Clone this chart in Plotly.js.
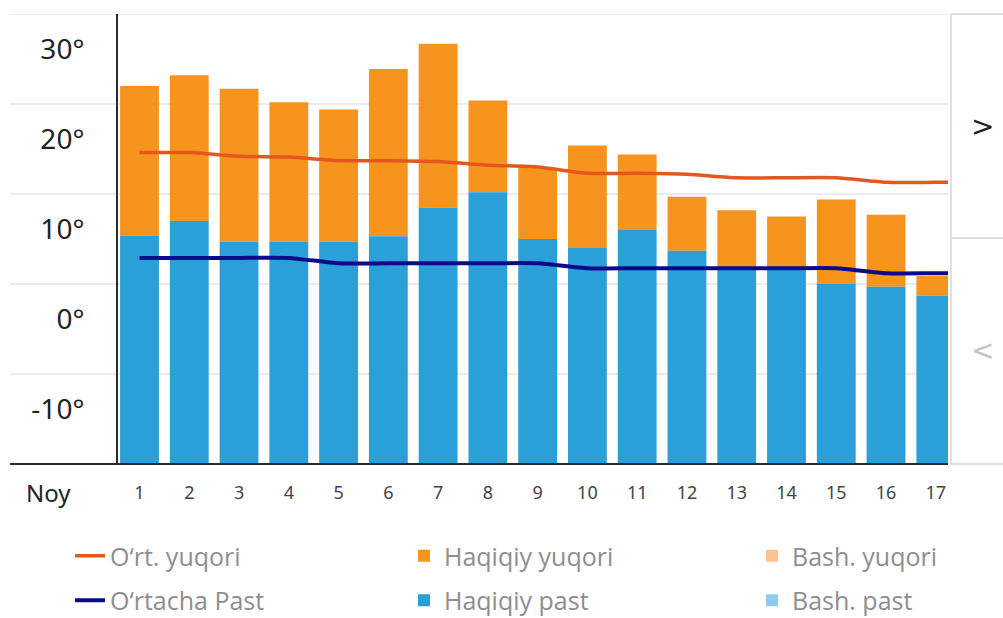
<!DOCTYPE html>
<html>
<head>
<meta charset="utf-8">
<script src="https://cdn.plot.ly/plotly-3.0.1.min.js"></script>
<style>
  html, body { margin: 0; padding: 0; background: #ffffff; }
  #chart { width: 1003px; height: 618px; }
</style>
</head>
<body>
<div id="chart"></div>
<script>
// ---- data ----
const days      = [1, 2, 3, 4, 5, 6, 7, 8, 9, 10, 11, 12, 13, 14, 15, 16, 17];
const dayLabels = ["1","2","3","4","5","6","7","8","9","10","11","12","13","14","15","16","17"];
const actualHigh = [22.0, 23.2, 21.7, 20.2, 19.4, 23.9, 26.7, 20.4, 12.9, 15.4, 14.4, 9.7, 8.2, 7.5, 9.4, 7.7, 0.9];
const actualLow  = [5.4, 7.0, 4.7, 4.7, 4.7, 5.3, 8.5, 10.2, 5.0, 4.0, 6.0, 3.7, 1.8, 1.8, 0.0, -0.3, -1.3];
const avgDays    = [1, 2, 3, 4, 5, 6, 7, 8, 9, 10, 11, 12, 13, 14, 15, 16, 17, 18];
const avgHigh    = [14.6, 14.6, 14.2, 14.1, 13.7, 13.7, 13.6, 13.2, 13.0, 12.3, 12.3, 12.2, 11.8, 11.8, 11.8, 11.3, 11.3, 11.3];
const avgLow     = [2.9, 2.9, 2.9, 2.9, 2.3, 2.3, 2.3, 2.3, 2.3, 1.75, 1.75, 1.75, 1.75, 1.75, 1.75, 1.2, 1.2, 1.2];
const forecastHigh = [null];
const forecastLow  = [null];
const yTickVals  = [-10, 0, 10, 20, 30];
const yTickText  = ["-10°", "0°", "10°", "20°", "30°"];
const axisFloor  = -20;
const axisTop    = 30;
const monthLabel = "Noy";
const names = {
  avgHigh: "O\u2018rt. yuqori",
  avgLow: "O\u2018rtacha Past",
  actHigh: "Haqiqiy yuqori",
  actLow: "Haqiqiy past",
  fcHigh: "Bash. yuqori",
  fcLow: "Bash. past"
};

// ---- styles ----
const C = {
  orange: "#F7941D", blue: "#2A9FD8",
  lightOrange: "#FBC48E", lightBlue: "#8ECBEF",
  avgHigh: "#E4571E", avgLow: "#0A0A8A",
  grid: "#e4e4e4", axis: "#2b2b2b", legendText: "#8e8e8e"
};

const traces = [
  { type: "bar", x: days, base: actualLow, y: actualHigh.map((h, i) => h - actualLow[i]),
    marker: { color: C.orange }, name: names.actHigh, legend: "legend2", legendgroup: "b1", hoverinfo: "skip" },
  { type: "bar", x: days, base: axisFloor, y: actualLow.map(v => v - axisFloor),
    marker: { color: C.blue }, name: names.actLow, legend: "legend2", legendgroup: "b2", hoverinfo: "skip" },
  { type: "bar", x: forecastHigh, y: forecastHigh,
    marker: { color: C.lightOrange }, name: names.fcHigh, legend: "legend3", legendgroup: "c1" },
  { type: "bar", x: forecastLow, y: forecastLow,
    marker: { color: C.lightBlue }, name: names.fcLow, legend: "legend3", legendgroup: "c2" },
  { type: "scatter", mode: "lines", x: avgDays, y: avgHigh,
    line: { color: C.avgHigh, width: 3.5, shape: "spline", smoothing: 0.6 },
    name: names.avgHigh, legend: "legend", legendgroup: "a1", hoverinfo: "skip" },
  { type: "scatter", mode: "lines", x: avgDays, y: avgLow,
    line: { color: C.avgLow, width: 4, shape: "spline", smoothing: 0.6 },
    name: names.avgLow, legend: "legend", legendgroup: "a2", hoverinfo: "skip" }
];

const legendCommon = {
  orientation: "v", xref: "paper", yref: "container",
  yanchor: "top", y: 1 - 533 / 618, xanchor: "left",
  font: { family: "'Open Sans', Roboto, sans-serif", size: 25, color: C.legendText },
  bgcolor: "rgba(0,0,0,0)", tracegroupgap: 9, itemclick: false
};
const px2paperX = px => (px - 118) / 830;

// gridlines extended into the label column, from the tick values
const gridShapes = yTickVals.concat([axisTop]).filter((v, i, a) => a.indexOf(v) === i).map(v => ({
  type: "line", xref: "paper", yref: "y", x0: -0.13, x1: 1, y0: v, y1: v,
  line: { color: C.grid, width: 1.5 }, layer: "below"
}));

const layout = {
  width: 1003, height: 618,
  margin: { l: 118, r: 55, t: 14, b: 154 },
  paper_bgcolor: "#ffffff", plot_bgcolor: "#ffffff",
  barmode: "overlay", bargap: 0.22,
  font: { family: "Roboto, 'Noto Sans', sans-serif", color: "#222" },
  xaxis: {
    range: [0.568, 17.245], tickvals: days, ticktext: dayLabels,
    showgrid: false, zeroline: false, showline: false, ticks: "",
    ticklabelstandoff: 16,
    tickfont: { family: "'Noto Sans', Roboto, sans-serif", size: 18, color: "#444" },
    fixedrange: true
  },
  yaxis: {
    range: [axisFloor, axisTop], tickvals: yTickVals, ticktext: yTickText,
    showgrid: false, zeroline: false, showline: true, linecolor: C.axis, linewidth: 2,
    ticks: "", ticklabelstandoff: 26, ticklabelshift: 35,
    tickfont: { family: "'Noto Sans', Roboto, sans-serif", size: 28, color: "#222" },
    fixedrange: true
  },
  legend:  Object.assign({}, legendCommon, { x: px2paperX(70) }),
  legend2: Object.assign({}, legendCommon, { x: px2paperX(404) }),
  legend3: Object.assign({}, legendCommon, { x: px2paperX(752) }),
  shapes: gridShapes.concat([
    { type: "line", xref: "paper", yref: "paper", x0: -0.13, x1: 1, y0: 0, y1: 0,
      line: { color: C.axis, width: 2 }, layer: "above" },
    { type: "rect", xref: "paper", yref: "paper", x0: 1.0036, x1: 1.07, y0: 0, y1: 1,
      line: { color: "#d6d6d6", width: 1.5 }, fillcolor: "rgba(0,0,0,0)" },
    { type: "line", xref: "paper", yref: "paper", x0: 1.0036, x1: 1.07, y0: 0.502, y1: 0.502,
      line: { color: "#d6d6d6", width: 1.5 } }
  ]),
  annotations: [
    { text: monthLabel, xref: "paper", yref: "paper", x: -0.084, y: -0.064,
      xanchor: "center", yanchor: "middle", showarrow: false,
      font: { family: "'Noto Sans', Roboto, sans-serif", size: 24, color: "#222" } },
    { text: ">", xref: "paper", yref: "paper", x: 1.042, y: 0.749,
      xanchor: "center", yanchor: "middle", showarrow: false,
      font: { family: "'DejaVu Sans', sans-serif", size: 28, color: "#222" } },
    { text: "<", xref: "paper", yref: "paper", x: 1.042, y: 0.253,
      xanchor: "center", yanchor: "middle", showarrow: false,
      font: { family: "'DejaVu Sans', sans-serif", size: 28, color: "#c4c4c4" } }
  ]
};

Plotly.newPlot("chart", traces, layout, { displayModeBar: false, staticPlot: true });
</script>
</body>
</html>
